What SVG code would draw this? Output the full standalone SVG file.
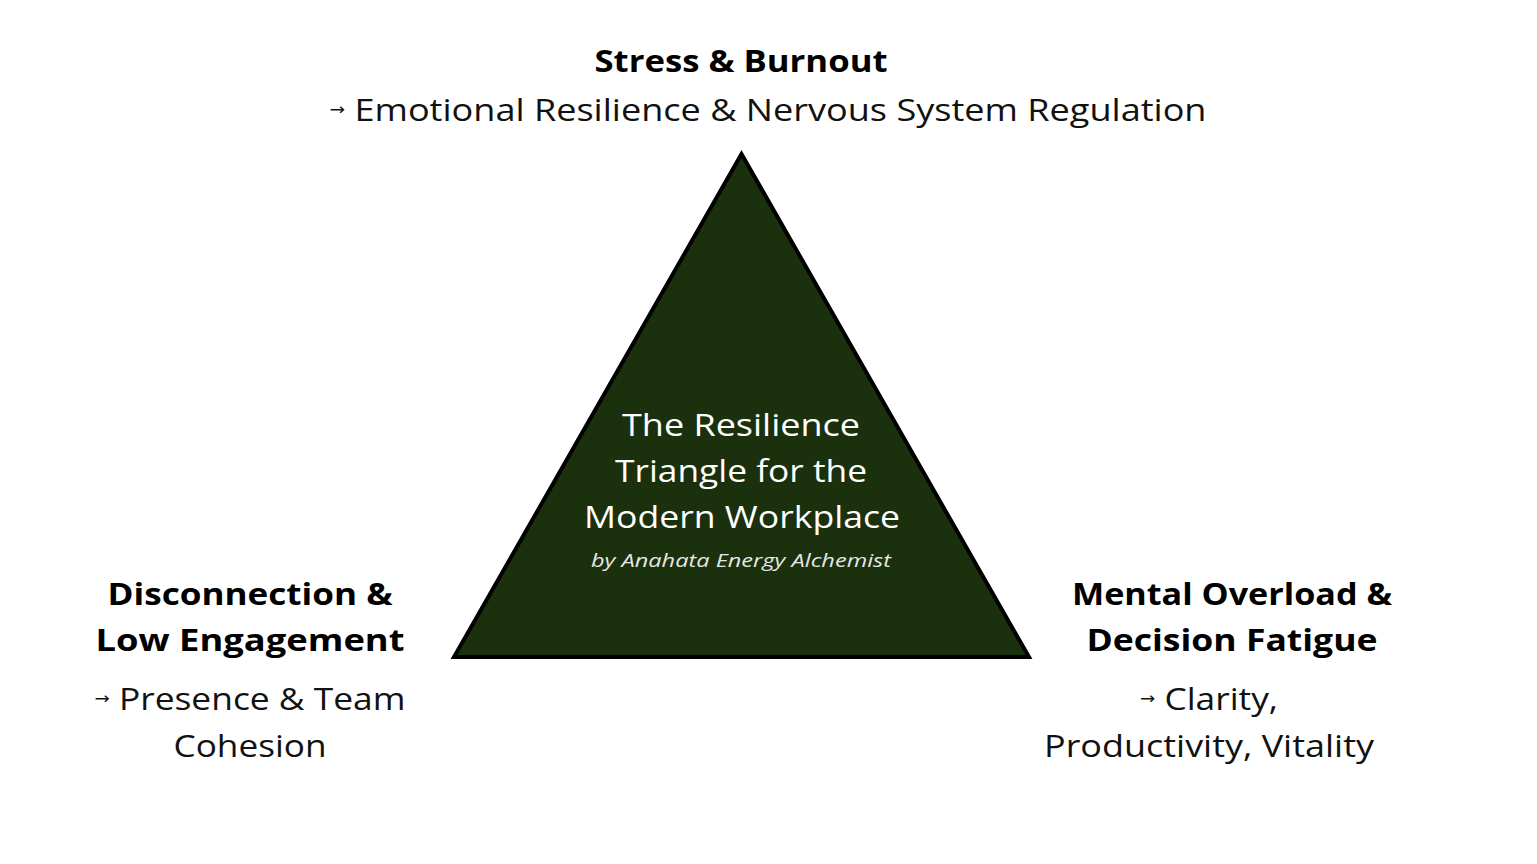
<svg xmlns="http://www.w3.org/2000/svg" width="1537" height="864" viewBox="0 0 1537 864">
<style>
text { font-family: "Open Sans", "Noto Sans", "Liberation Sans", sans-serif; text-anchor: middle; }
.head { font-weight: 700; font-size: 31px; fill: #000; }
.body { font-weight: 400; font-size: 31px; fill: #111; }
.center { font-weight: 400; font-size: 31px; fill: #ffffff; }
.by { font-style: italic; font-size: 19px; fill: #e6e6e6; }
.arr { font-family: "DejaVu Sans", sans-serif; font-size: 16px; }
</style>
<rect width="1537" height="864" fill="#ffffff"/>
<g id="triangle">
<polygon points="741.5,154 454,657 1029,657" fill="#1b300d" stroke="#000" stroke-width="4" stroke-linejoin="miter"/>
<text class="center" x="741" y="436" textLength="238" lengthAdjust="spacingAndGlyphs">The Resilience</text>
<text class="center" x="741" y="482" textLength="252" lengthAdjust="spacingAndGlyphs">Triangle for the</text>
<text class="center" x="742" y="528" textLength="316" lengthAdjust="spacingAndGlyphs">Modern Workplace</text>
<text class="by" x="741" y="567" textLength="300" lengthAdjust="spacingAndGlyphs">by Anahata Energy Alchemist</text>
</g>
<g id="node-top">
<text class="head" x="741" y="72" textLength="293" lengthAdjust="spacingAndGlyphs">Stress &amp; Burnout</text>
<text class="body" x="768" y="121" textLength="877" lengthAdjust="spacingAndGlyphs"><tspan class="arr" dy="-6">→</tspan><tspan dy="6"> Emotional Resilience &amp; Nervous System Regulation</tspan></text>
</g>
<g id="node-left">
<text class="head" x="250" y="605" textLength="285" lengthAdjust="spacingAndGlyphs">Disconnection &amp;</text>
<text class="head" x="250" y="651" textLength="309" lengthAdjust="spacingAndGlyphs">Low Engagement</text>
<text class="body" x="250" y="710" textLength="311" lengthAdjust="spacingAndGlyphs"><tspan class="arr" dy="-6">→</tspan><tspan dy="6"> Presence &amp; Team</tspan></text>
<text class="body" x="250" y="757" textLength="153" lengthAdjust="spacingAndGlyphs">Cohesion</text>
</g>
<g id="node-right">
<text class="head" x="1232" y="605" textLength="320" lengthAdjust="spacingAndGlyphs">Mental Overload &amp;</text>
<text class="head" x="1232" y="651" textLength="291" lengthAdjust="spacingAndGlyphs">Decision Fatigue</text>
<text class="body" x="1209" y="710" textLength="138" lengthAdjust="spacingAndGlyphs"><tspan class="arr" dy="-6">→</tspan><tspan dy="6"> Clarity,</tspan></text>
<text class="body" x="1209" y="757" textLength="330" lengthAdjust="spacingAndGlyphs">Productivity, Vitality</text>
</g>
<g id="connectors"></g>
</svg>
